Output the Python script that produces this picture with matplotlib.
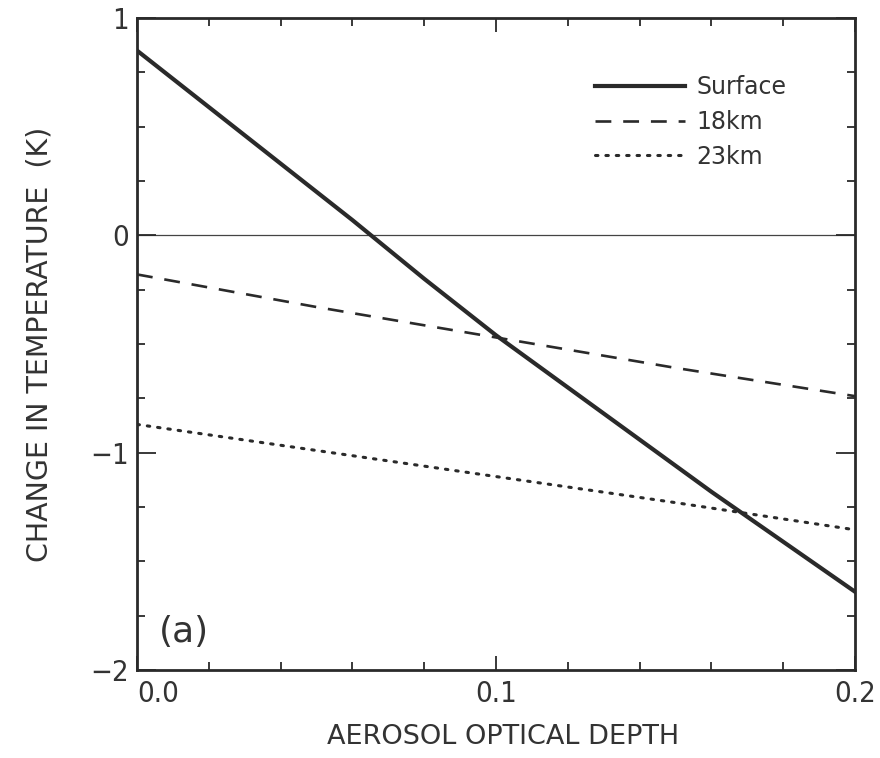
import numpy as np
import matplotlib
matplotlib.use('Agg')
from matplotlib import pyplot as plt
from matplotlib.ticker import MultipleLocator

plt.rcParams['font.family'] = ['DejaVu Sans']

# data
tau          = [0.0, 0.02, 0.04, 0.06, 0.08, 0.10, 0.12, 0.14, 0.16, 0.18, 0.20]
dT_surface   = [0.85, 0.59, 0.33, 0.07, -0.20, -0.46, -0.70, -0.94, -1.18, -1.41, -1.64]
tau_18       = [0.0, 0.05, 0.10, 0.15, 0.20]
dT_18km      = [-0.18, -0.33, -0.47, -0.61, -0.74]
tau_23       = [0.0, 0.05, 0.10, 0.15, 0.20]
dT_23km      = [-0.87, -0.99, -1.11, -1.23, -1.355]

xticks       = [0.0, 0.1, 0.2]
xticklabels  = ['0.0', '0.1', '0.2']
yticks       = [-2, -1, 0, 1]
yticklabels  = ['\u22122', '\u22121', '0', '1']

ink = '#2a2a2a'
txt = '#333333'

fig = plt.figure(figsize=(8.8, 7.58), dpi=100)
ax  = fig.add_axes([0.1557, 0.1161, 0.8159, 0.8602])

ax.axhline(0, color='#444444', lw=0.9, zorder=1)

ax.plot(tau, dT_surface, color=ink, lw=3.0, label='Surface')
ax.plot(tau_18, dT_18km, color=ink, lw=1.9, dashes=(6, 4.5), label='18km')
ax.plot(tau_23, dT_23km, color=ink, lw=2.2, dashes=(0.8, 2.6),
        dash_capstyle='round', label='23km')

ax.set_xlim(0, 0.2)
ax.set_ylim(-2, 1)
ax.set_xticks(xticks)
ax.set_xticklabels(xticklabels)
ax.set_yticks(yticks)
ax.set_yticklabels(yticklabels)
ax.xaxis.set_minor_locator(MultipleLocator(0.02))
ax.yaxis.set_minor_locator(MultipleLocator(0.25))

ax.tick_params(which='both', direction='in', top=True, right=True,
               width=1.3, color=ink, labelcolor=txt)
ax.tick_params(axis='x', which='major', length=10, pad=7)
ax.tick_params(axis='y', which='major', length=14, pad=6)
ax.tick_params(which='minor', length=6)
for lab in ax.get_xticklabels() + ax.get_yticklabels():
    lab.set_fontsize(21)
    lab.set_fontstretch('condensed')
ax.get_xticklabels()[0].set_horizontalalignment('left')

for sp in ax.spines.values():
    sp.set_linewidth(2.0)
    sp.set_color(ink)

ax.set_xlabel('AEROSOL OPTICAL DEPTH', fontsize=19.5, color=txt, labelpad=12, x=0.51)
ax.set_ylabel('CHANGE IN TEMPERATURE  (K)', fontsize=20.5, color=txt, labelpad=26)

ax.text(0.006, -1.87, '(a)', fontsize=26, color=txt)

leg = ax.legend(loc='upper left', bbox_to_anchor=(0.638, 0.912), frameon=False,
                fontsize=17, handlelength=3.8, handletextpad=0.5,
                labelspacing=0.45, borderaxespad=0, borderpad=0)
for t in leg.get_texts():
    t.set_color(txt)

plt.savefig('out.png', dpi=100)
plt.close()
